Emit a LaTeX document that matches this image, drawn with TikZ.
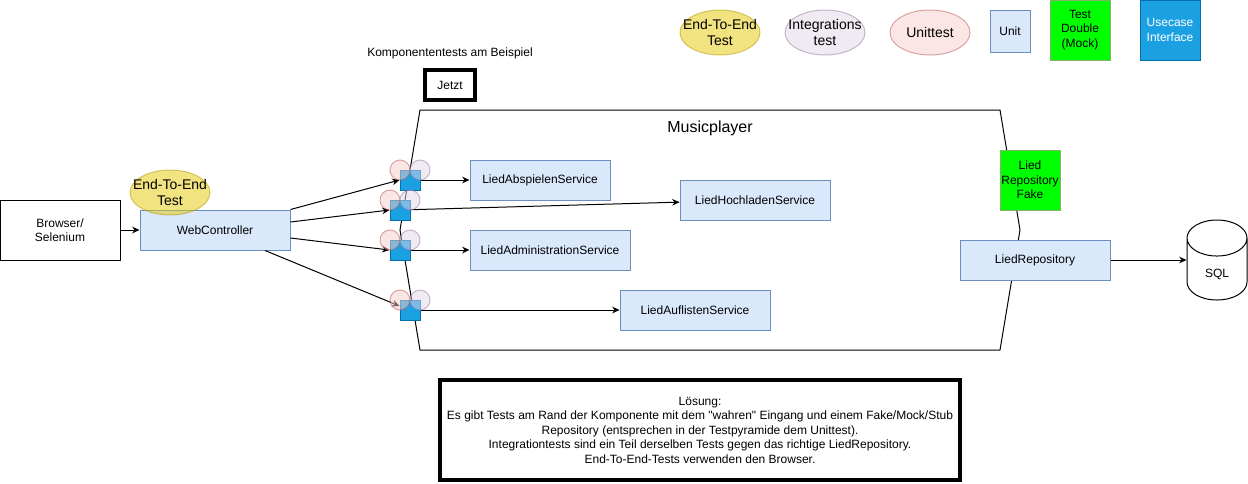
\documentclass[tikz,border=0pt]{standalone}
\usepackage{fontspec}
\setmainfont[Ligatures=TeXOff]{Liberation Sans}
\usetikzlibrary{shapes.geometric,arrows.meta}
\tikzset{
  every node/.style={inner sep=0pt,align=center,font=\fontsize{9}{10.9}\selectfont},
  line/.style={line width=0.75pt,-{Stealth[length=5.5pt,width=5pt]}},
  unitbox/.style={draw=unitedge,fill=unitfill,line width=0.75pt},
  usecasebox/.style={draw=usecaseedge,fill=usecasefill,line width=0.75pt,minimum size=15pt},
  doublebox/.style={draw=doubleedge,fill=doublefill,line width=0.75pt,minimum size=45pt},
  plainbox/.style={draw,line width=2.6pt},
  oval/.style={ellipse,inner sep=-12pt,line width=0.75pt,draw opacity=0.5,fill opacity=0.5,text opacity=1,minimum width=60pt,minimum height=33.75pt,font=\fontsize{10.5}{12.2}\selectfont},
  smalloval/.style={ellipse,line width=0.75pt,draw opacity=0.5,fill opacity=0.5,minimum size=15pt},
  e2eoval/.style={oval,draw=e2eedge,fill=e2efill},
  intoval/.style={draw=intedge,fill=intfill},
  pinkoval/.style={draw=pinkedge,fill=pinkfill}
}
\definecolor{unitedge}{HTML}{6C8EBF}
\definecolor{unitfill}{HTML}{DAE8FC}
\definecolor{usecaseedge}{HTML}{006EAF}
\definecolor{usecasefill}{HTML}{1BA1E2}
\definecolor{doubleedge}{HTML}{82B366}
\definecolor{doublefill}{HTML}{00FF00}
\definecolor{e2eedge}{HTML}{B09500}
\definecolor{e2efill}{HTML}{E3C800}
\definecolor{intedge}{HTML}{9673A6}
\definecolor{intfill}{HTML}{E1D5E7}
\definecolor{pinkedge}{HTML}{B85450}
\definecolor{pinkfill}{HTML}{F8CECC}
\begin{document}
\begin{tikzpicture}[x=0.75pt,y=-0.75pt]
\useasboundingbox (0,0) rectangle (1248,483);
\draw[line width=0.75pt] (420,110) -- (1000,110) -- (1020,230) -- (1000,350) -- (420,350) -- (400,230) -- cycle;
\node at (710,128) (musicplayer) {\fontsize{12}{14}\selectfont Musicplayer};

\node at (450,53) (heading) {Komponententests am Beispiel};
\node[plainbox,minimum width=37.5pt,minimum height=22.5pt] at (450,85) (jetzt) {Jetzt};

\node[e2eoval] at (720,32.5) (legendE2e) {End-To-End\\Test};
\node[oval,intoval] at (825,32.5) (legendInt) {Integrations\\test};
\node[oval,pinkoval] at (930,32.5) (legendUnittest) {Unittest};
\node[unitbox,minimum width=30pt,minimum height=31.5pt] at (1010,31) (legendUnit) {Unit};
\node[doublebox] at (1080,30) (legendDouble) {Test\\Double\\(Mock)};
\node[usecasebox,minimum size=45pt,text=white] at (1170,30) (legendUsecase) {Usecase\\Interface};

\node[draw,line width=0.75pt,minimum width=90pt,minimum height=45pt] at (60,230) (browser) {Browser/\\Selenium};
\node[unitbox,minimum width=112.5pt,minimum height=30pt] at (215,230) (webController) {WebController};
\node[e2eoval] at (170,192.5) (webE2e) {End-To-End\\Test};

\node[unitbox,minimum width=105pt,minimum height=30pt] at (540,180) (abspielen) {LiedAbspielenService};
\node[unitbox,minimum width=112.5pt,minimum height=30pt] at (755,200) (hochladen) {LiedHochladenService};
\node[unitbox,minimum width=120pt,minimum height=30pt] at (550,250) (administration) {LiedAdministrationService};
\node[unitbox,minimum width=112.5pt,minimum height=30pt] at (695,310) (auflisten) {LiedAuflistenService};

\node[doublebox] at (1030,180) (fake) {Lied\\Repository\\Fake};
\node[unitbox,minimum width=112.5pt,minimum height=30pt] at (1035,260) (repository) {LiedRepository};
\node[draw,cylinder,shape border rotate=90,aspect=1.5,line width=0.75pt,minimum width=45pt,minimum height=60pt,anchor=shape center] at (1217,260) (sql) {\raisebox{-6.3pt}[0pt][0pt]{SQL}};

\node[usecasebox] at (410,180) (unitA) {};
\node[usecasebox] at (400,210) (unitB) {};
\node[usecasebox] at (400,250) (unitC) {};
\node[usecasebox] at (410,310) (unitD) {};

\draw[line] (browser) -- (webController);
\draw[line] (webController.north east) -- (unitA.west);
\draw[line] ([yshift=6pt]webController.east) -- (unitB.west);
\draw[line] ([yshift=-6pt]webController.east) -- (unitC.west);
\draw[line] ([xshift=37.5pt]webController.south) -- ([yshift=3pt]unitD.west);
\draw[line] (unitA) -- (abspielen);
\draw[line] (unitB) -- (hochladen);
\draw[line] (unitC) -- (administration);
\draw[line] (unitD) -- (auflisten);
\draw[line] (repository) -- (sql.west |- repository);

\node[smalloval,pinkoval] at (400,170) (pinkA) {};
\node[smalloval,intoval] at (420,170) (intA) {};
\node[smalloval,pinkoval] at (390,200) (pinkB) {};
\node[smalloval,intoval] at (410,200) (intB) {};
\node[smalloval,pinkoval] at (390,240) (pinkC) {};
\node[smalloval,intoval] at (410,240) (intC) {};
\node[smalloval,pinkoval] at (400,300) (pinkD) {};
\node[smalloval,intoval] at (420,300) (intD) {};

\node[plainbox,line width=3pt,minimum width=390pt,minimum height=75pt] at (700,430) (solution) {L\"osung:\\Es gibt Tests am Rand der Komponente mit dem "wahren" Eingang und einem Fake/Mock/Stub\\Repository (entsprechen in der Testpyramide dem Unittest).\\Integrationtests sind ein Teil derselben Tests gegen das richtige LiedRepository.\\End-To-End-Tests verwenden den Browser.};
\end{tikzpicture}
\end{document}
